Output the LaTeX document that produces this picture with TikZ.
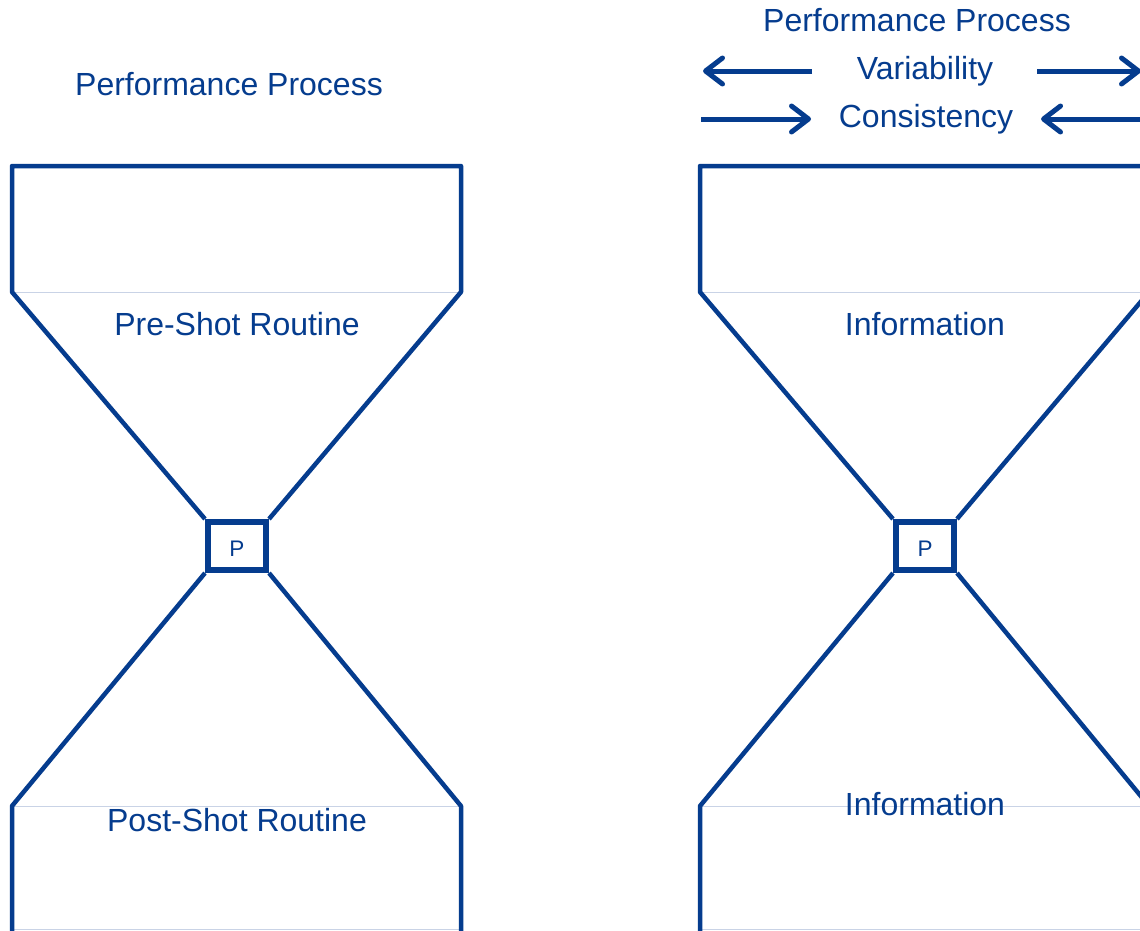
\documentclass[tikz,border=0pt]{standalone}
\usepackage{fontspec}
\setmainfont{Liberation Sans}
\usetikzlibrary{arrows.meta}
\definecolor{hgblue}{HTML}{053C8E}
\definecolor{hgthin}{HTML}{C9D3E6}
\tikzset{
  hgline/.style={draw=hgblue, line width=4.5pt, line join=round},
  thinline/.style={draw=hgthin, line width=1pt},
  pbox/.style={draw=hgblue, line width=6pt, minimum width=58pt, minimum height=48pt, inner sep=0pt},
  plbl/.style={text=hgblue, font=\fontsize{22.5}{26}\selectfont, inner sep=0pt},
  lbl/.style={text=hgblue, font=\fontsize{32}{38}\selectfont, inner sep=0pt, anchor=center},
  arr/.style={draw=hgblue, line width=5pt, -{Straight Barb[length=17pt,width=26pt,round]}},
}
\begin{document}
\begin{tikzpicture}[x=1pt,y=-1pt]
\clip (0,0) rectangle (1140,930);
\fill[white] (0,0) rectangle (1140,930);
\foreach \ox/\nm in {0/L,688/R}{
  \begin{scope}[xshift=\ox pt]
    \node[pbox] (P\nm) at (237,546) {};
    \node[plbl] (Pt\nm) at (237,549) {P};
    \coordinate (tl\nm) at (12,166);
    \coordinate (tr\nm) at (461,166);
    \coordinate (ml\nm) at (12,292);
    \coordinate (mr\nm) at (461,292);
    \coordinate (bl\nm) at (12,806);
    \coordinate (br\nm) at (461,806);
    \coordinate (el\nm) at (12,940);
    \coordinate (er\nm) at (461,940);
    \coordinate (fl\nm) at (12,929);
    \coordinate (fr\nm) at (461,929);
    \draw[thinline] (ml\nm) -- (mr\nm);
    \draw[thinline] (bl\nm) -- (br\nm);
    \draw[thinline] (fl\nm) -- (fr\nm);
    \draw[hgline] (P\nm.north west) -- (ml\nm) -- (tl\nm) -- (tr\nm) -- (mr\nm) -- (P\nm.north east);
    \draw[hgline] (P\nm.south west) -- (bl\nm) -- (el\nm);
    \draw[hgline] (P\nm.south east) -- (br\nm) -- (er\nm);
  \end{scope}
}
\node[lbl] (ppl) at (229,84) {Performance Process};
\node[lbl] (pre) at (237,324) {Pre-Shot Routine};
\node[lbl] (post) at (237,820) {Post-Shot Routine};
\node[lbl] (ppr) at (917,20) {Performance Process};
\node[lbl] (var) at (925,71) {Variability};
\node[lbl] (con) at (926,119) {Consistency};
\node[lbl] (inf1) at (925,324) {Information};
\node[lbl] (inf2) at (925,804) {Information};
\coordinate (v1a) at (812,71);
\coordinate (v1b) at (703,71);
\coordinate (v2a) at (1037,71);
\coordinate (v2b) at (1141,71);
\coordinate (c1a) at (701,119);
\coordinate (c1b) at (811,119);
\coordinate (c2a) at (1150,119);
\coordinate (c2b) at (1041,119);
\draw[arr] (v1a) -- (v1b);
\draw[arr] (v2a) -- (v2b);
\draw[arr] (c1a) -- (c1b);
\draw[arr] (c2a) -- (c2b);
\end{tikzpicture}
\end{document}
